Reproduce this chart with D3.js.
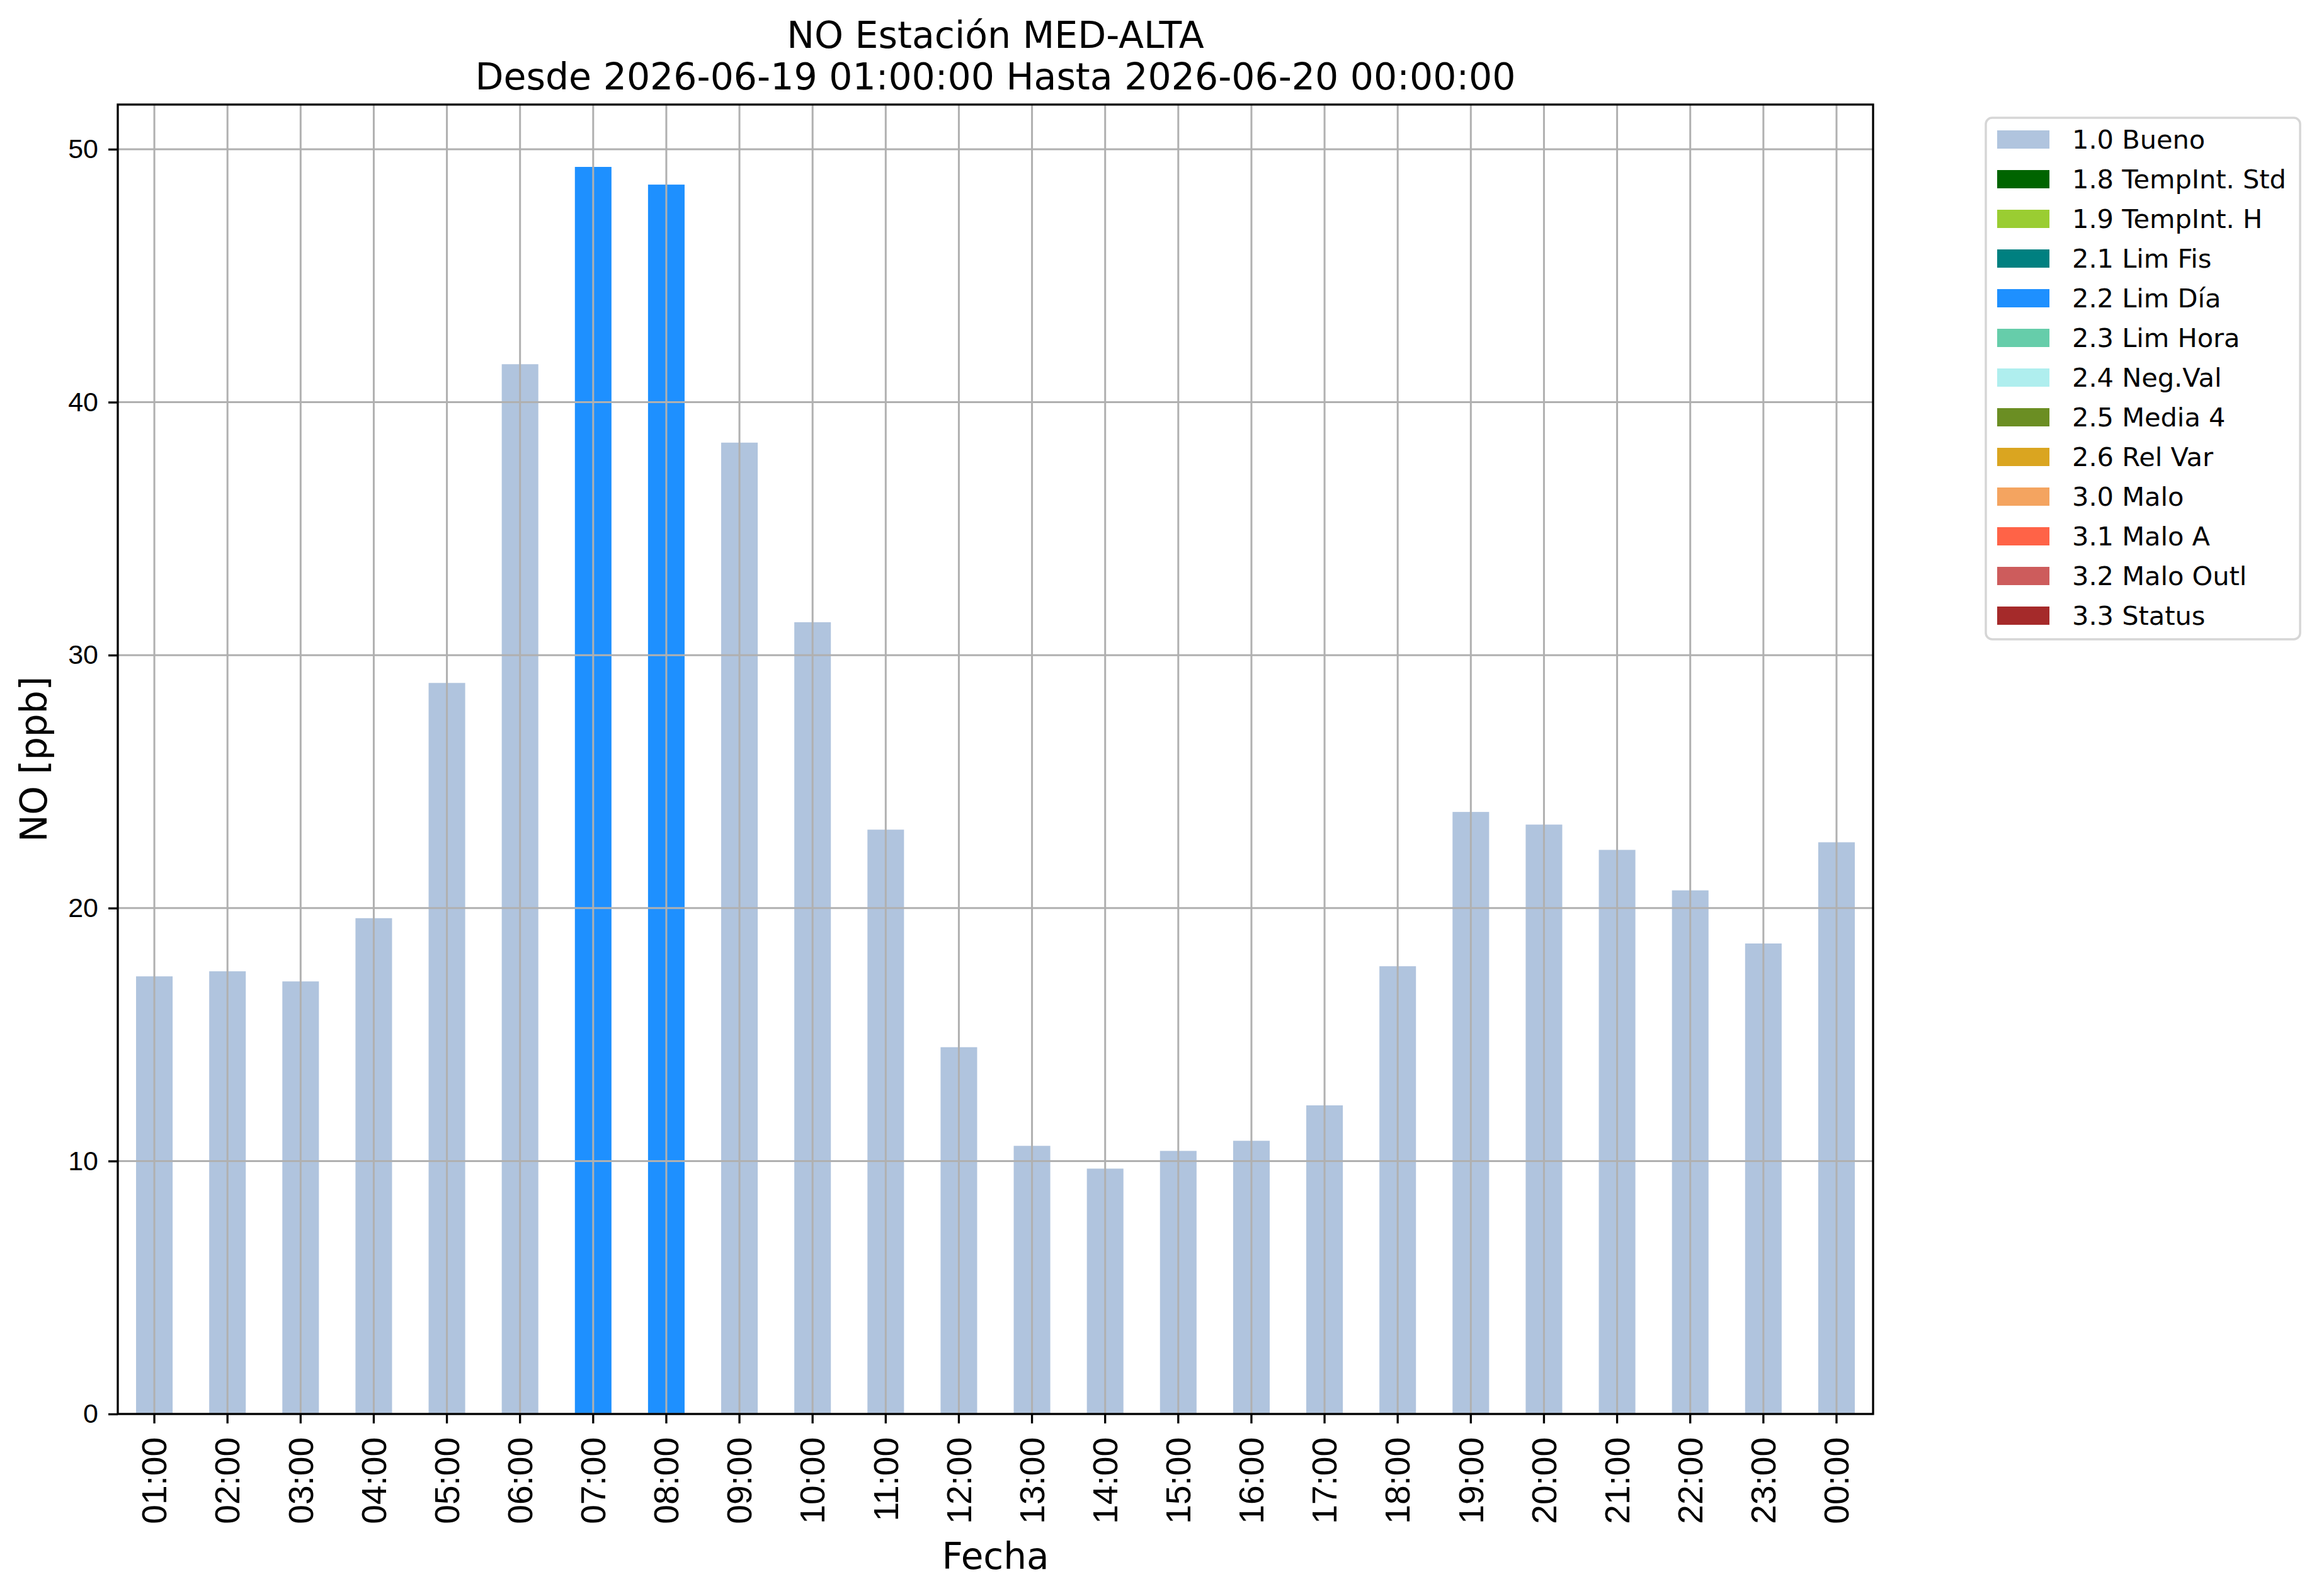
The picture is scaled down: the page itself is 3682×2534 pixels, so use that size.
<!DOCTYPE html>
<meta charset='utf-8'>
<style>
  body { margin: 0; background: #fff; }
  svg { font-family: 'DejaVu Sans', sans-serif; }
  .grid line { stroke: #b0b0b0; stroke-width: 3; }
  .axis path, .axis line { stroke: #000; stroke-width: 3.3; fill: none; }
  .axis text { fill: #000; }
</style>
<body>
<script src='https://d3js.org/d3.v7.min.js'></script>
<script>
  // hourly NO values, 2026-06-19 01:00 .. 2026-06-20 00:00
  const hours = ['01:00', '02:00', '03:00', '04:00', '05:00', '06:00', '07:00', '08:00',
    '09:00', '10:00', '11:00', '12:00', '13:00', '14:00', '15:00', '16:00',
    '17:00', '18:00', '19:00', '20:00', '21:00', '22:00', '23:00', '00:00']
  const values = [17.3, 17.5, 17.1, 19.6, 28.9, 41.5, 49.3, 48.6,
    38.4, 31.3, 23.1, 14.5, 10.6, 9.7, 10.4, 10.8,
    12.2, 17.7, 23.8, 23.3, 22.3, 20.7, 18.6, 22.6]
  const flags = ['1.0', '1.0', '1.0', '1.0', '1.0', '1.0', '2.2', '2.2',
    '1.0', '1.0', '1.0', '1.0', '1.0', '1.0', '1.0', '1.0',
    '1.0', '1.0', '1.0', '1.0', '1.0', '1.0', '1.0', '1.0']

  const flagCodes = ['1.0', '1.8', '1.9', '2.1', '2.2', '2.3', '2.4', '2.5', '2.6', '3.0', '3.1', '3.2', '3.3']
  const flagNames = ['Bueno', 'TempInt. Std', 'TempInt. H', 'Lim Fis', 'Lim Día', 'Lim Hora',
    'Neg.Val', 'Media 4', 'Rel Var', 'Malo', 'Malo A', 'Malo Outl', 'Status']
  const flagColors = ['#b0c4de', '#006400', '#9acd32', '#008080', '#1e90ff', '#66cdaa',
    '#afeeee', '#6b8e23', '#daa520', '#f4a460', '#ff6347', '#cd5c5c', '#a52a2a']
  const yTicks = [0, 10, 20, 30, 40, 50]

  const W = 3682, H = 2534
  const margin = {top: 166, right: 708, bottom: 289, left: 187}
  const width = W - margin.left - margin.right
  const height = H - margin.top - margin.bottom

  const color = d3.scaleOrdinal().domain(flagCodes).range(flagColors)

  const x = d3.scaleBand().domain(hours).range([0, width]).paddingInner(0.5).paddingOuter(0.25)
  const y = d3.scaleLinear().domain([0, d3.max(values) * 1.05]).range([height, 0])

  const svg = d3.select('body').append('svg')
    .attr('width', W).attr('height', H)

  const g = svg.append('g')
    .attr('transform', `translate(${margin.left}, ${margin.top})`)

  // bars
  g.selectAll('.bar')
    .data(hours)
    .enter().append('rect')
    .attr('class', 'bar')
    .attr('x', d => x(d))
    .attr('width', x.bandwidth())
    .attr('y', (d, i) => y(values[i]))
    .attr('height', (d, i) => height - y(values[i]))
    .attr('fill', (d, i) => color(flags[i]))

  // grid on top of bars, like matplotlib
  const grid = g.append('g').attr('class', 'grid')
  grid.selectAll('.gx').data(hours).enter().append('line')
    .attr('x1', d => x(d) + x.bandwidth() / 2).attr('x2', d => x(d) + x.bandwidth() / 2)
    .attr('y1', 0).attr('y2', height)
  grid.selectAll('.gy').data(yTicks).enter().append('line')
    .attr('x1', 0).attr('x2', width)
    .attr('y1', d => y(d)).attr('y2', d => y(d))

  // frame
  g.append('rect')
    .attr('width', width).attr('height', height)
    .attr('fill', 'none').attr('stroke', '#000').attr('stroke-width', 3.3)

  const xAxis = g.append('g')
    .attr('class', 'axis')
    .attr('transform', `translate(0, ${height})`)
    .call(d3.axisBottom(x).tickSize(15).tickSizeOuter(0).tickPadding(22))
  xAxis.select('.domain').remove()
  xAxis.selectAll('text')
    .style('font-size', '55px')
    .attr('transform', 'rotate(-90)')
    .attr('y', 0)
    .attr('x', -37)
    .attr('dy', '0.35em')
    .style('text-anchor', 'end')

  const yAxis = g.append('g')
    .attr('class', 'axis')
    .call(d3.axisLeft(y).tickValues(yTicks).tickSize(15).tickSizeOuter(0).tickPadding(16))
  yAxis.select('.domain').remove()
  yAxis.selectAll('text').style('font-size', '43px')

  // labels
  svg.append('text')
    .attr('x', margin.left + width / 2).attr('y', 2491)
    .attr('text-anchor', 'middle').style('font-size', '58px')
    .text('Fecha')

  svg.append('text')
    .attr('transform', `translate(74, ${margin.top + height / 2}) rotate(-90)`)
    .attr('text-anchor', 'middle').style('font-size', '58px')
    .text('NO [ppb]')

  const title = svg.append('text')
    .attr('text-anchor', 'middle').style('font-size', '58.5px')
  title.append('tspan').attr('x', margin.left + width / 2).attr('y', 76)
    .text('NO Estación MED-ALTA')
  title.append('tspan').attr('x', margin.left + width / 2).attr('y', 142)
    .text('Desde 2026-06-19 01:00:00 Hasta 2026-06-20 00:00:00')

  // legend
  const legend = svg.append('g').attr('transform', 'translate(3153, 187)')
  legend.append('rect')
    .attr('width', 499).attr('height', 828)
    .attr('rx', 10).attr('ry', 10)
    .attr('fill', '#fff').attr('stroke', '#d6d6d6').attr('stroke-width', 3.5)

  const ly = d3.scaleBand().domain(flagCodes).range([2, 2 + 63 * flagCodes.length])
  const item = legend.selectAll('.item')
    .data(flagCodes)
    .enter().append('g')
    .attr('transform', d => `translate(0, ${ly(d)})`)
  item.append('rect')
    .attr('x', 18).attr('y', 18)
    .attr('width', 83).attr('height', 29)
    .attr('fill', d => color(d))
  item.append('text')
    .attr('x', 137).attr('y', 32.5)
    .attr('dy', '0.35em')
    .style('font-size', '41.5px')
    .text((d, i) => `${d} ${flagNames[i]}`)
</script>
</body>
